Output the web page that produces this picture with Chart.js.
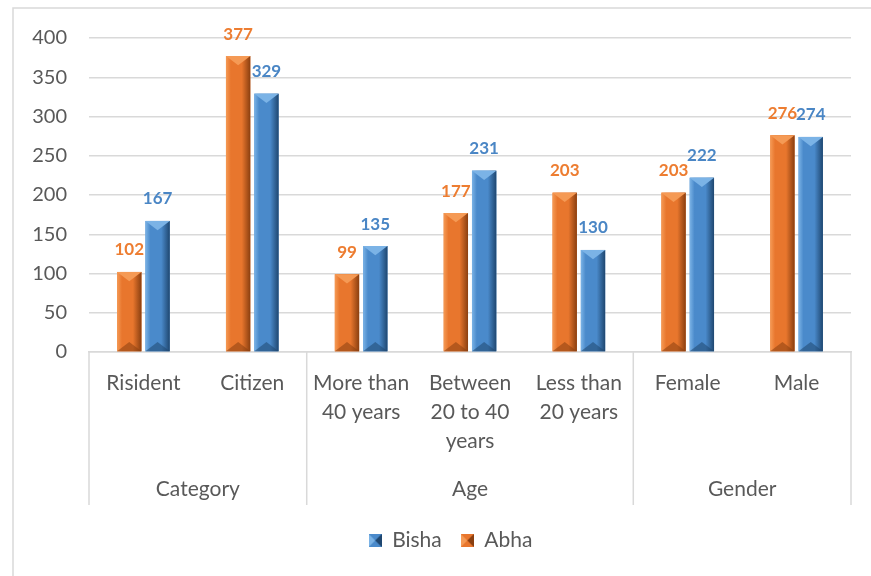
<!DOCTYPE html>
<html>
<head>
<meta charset="utf-8">
<script src="https://cdn.jsdelivr.net/npm/chart.js@4.4.1/dist/chart.umd.min.js"></script>
<style>
  html, body { margin: 0; padding: 0; background: #fff; }
  #wrap { width: 871px; height: 576px; position: relative; }
</style>
</head>
<body>
<div id="wrap"><canvas id="grafica"></canvas></div>
<script>
// datos
const categorias = ['Risident', 'Citizen', ['More than', '40 years'], ['Between', '20 to 40', 'years'], ['Less than', '20 years'], 'Female', 'Male'];
const grupos = ['Category', 'Age', 'Gender'];
const grupoSpan = [2, 3, 2];
const abha = [102, 377, 99, 177, 203, 203, 276];
const bisha = [167, 329, 135, 231, 130, 222, 274];
const yMax = 400;
const yStep = 50;

const fuente = 'Lato, "Open Sans", sans-serif';
const gris = '#595959';

const colores = {
  Abha: { base: '#E8762D', claro: '#F59A55', oscuro: '#8A3F10', texto: '#ED7D31' },
  Bisha: { base: '#4A8ACB', claro: '#7BB3E6', oscuro: '#1F4770', texto: '#4A86C5' }
};

// cuadrito del legend con bisel
function cuadrito(c) {
  const cv = document.createElement('canvas');
  cv.width = 13; cv.height = 13;
  const g = cv.getContext('2d');
  g.fillStyle = c.base; g.fillRect(0, 0, 13, 13);
  g.fillStyle = c.claro;
  g.beginPath(); g.moveTo(0, 0); g.lineTo(6.5, 6.5); g.lineTo(0, 13); g.closePath(); g.fill();
  g.fillStyle = c.oscuro;
  g.beginPath(); g.moveTo(13, 0); g.lineTo(6.5, 6.5); g.lineTo(13, 13); g.closePath(); g.fill();
  return cv;
}

const bisel = {
  id: 'bisel',
  afterDatasetsDraw(chart) {
    const ctx = chart.ctx;
    chart.data.datasets.forEach((ds, i) => {
      const meta = chart.getDatasetMeta(i);
      const c = colores[ds.label];
      meta.data.forEach((bar, j) => {
        const L = bar.x - bar.width / 2, R = bar.x + bar.width / 2;
        const T = bar.y, B = bar.base;
        const s = Math.min(bar.width * 0.38, (B - T) / 2);
        ctx.save();
        const grad = ctx.createLinearGradient(L, 0, R, 0);
        grad.addColorStop(0, c.claro);
        grad.addColorStop(0.2, c.base);
        grad.addColorStop(0.65, c.base);
        grad.addColorStop(1, c.oscuro);
        ctx.fillStyle = grad;
        ctx.fillRect(L, T, R - L, B - T);
        ctx.fillStyle = c.claro;
        ctx.beginPath(); ctx.moveTo(L, T); ctx.lineTo(R, T); ctx.lineTo(bar.x, T + s); ctx.closePath(); ctx.fill();
        ctx.globalAlpha = 0.55;
        ctx.fillStyle = c.oscuro;
        ctx.beginPath(); ctx.moveTo(L, B); ctx.lineTo(R, B); ctx.lineTo(bar.x, B - s); ctx.closePath(); ctx.fill();
        ctx.restore();
        // etiqueta
        ctx.save();
        ctx.fillStyle = c.texto;
        ctx.font = 'bold 17px ' + fuente;
        ctx.textAlign = 'center';
        ctx.textBaseline = 'middle';
        ctx.fillText(ds.data[j], bar.x, T - 22);
        ctx.restore();
      });
    });
  }
};

const gruposPlugin = {
  id: 'grupos',
  afterLayout(chart) {
    // el legend va un poco a la derecha, como en el original
    chart.legend.left += 25;
    chart.legend.right += 25;
  },
  afterDraw(chart) {
    const ctx = chart.ctx;
    const x = chart.scales.x;
    const area = chart.chartArea;
    const abajo = area.bottom + 153;
    ctx.save();
    ctx.strokeStyle = '#d9d9d9';
    ctx.lineWidth = 1.5;
    // marco exterior
    ctx.beginPath();
    ctx.moveTo(13, 580); ctx.lineTo(13, 8); ctx.lineTo(880, 8);
    ctx.stroke();
    let idx = 0;
    const bordes = [area.left];
    const centros = [];
    grupoSpan.forEach(n => {
      const ini = idx, fin = idx + n - 1;
      const izq = ini === 0 ? area.left : (x.getPixelForValue(ini - 1) + x.getPixelForValue(ini)) / 2;
      const der = fin === categorias.length - 1 ? area.right : (x.getPixelForValue(fin) + x.getPixelForValue(fin + 1)) / 2;
      bordes.push(der);
      centros.push((izq + der) / 2);
      idx += n;
    });
    ctx.beginPath();
    bordes.forEach(b => { ctx.moveTo(b, area.bottom); ctx.lineTo(b, abajo); });
    ctx.stroke();
    ctx.fillStyle = gris;
    ctx.font = '21px ' + fuente;
    ctx.textAlign = 'center';
    ctx.textBaseline = 'middle';
    grupos.forEach((g, k) => ctx.fillText(g, centros[k], area.bottom + 137));
    ctx.restore();
  }
};

new Chart(document.getElementById('grafica').getContext('2d'), {
  type: 'bar',
  data: {
    labels: categorias,
    datasets: [
      { label: 'Abha', data: abha, backgroundColor: colores.Abha.base, pointStyle: cuadrito(colores.Abha),
        categoryPercentage: 0.52, barPercentage: 0.86 },
      { label: 'Bisha', data: bisha, backgroundColor: colores.Bisha.base, pointStyle: cuadrito(colores.Bisha),
        categoryPercentage: 0.52, barPercentage: 0.86 }
    ]
  },
  options: {
    responsive: true,
    maintainAspectRatio: false,
    animation: false,
    layout: { padding: { left: 0, right: 20, top: 38, bottom: 15 } },
    plugins: {
      tooltip: { enabled: false },
      legend: {
        position: 'bottom',
        reverse: true,
        labels: {
          usePointStyle: true,
          boxWidth: 13,
          boxHeight: 13,
          padding: 19,
          color: gris,
          font: { family: fuente, size: 21 }
        }
      }
    },
    scales: {
      x: {
        grid: { display: false, drawTicks: false },
        border: { display: true, color: '#d9d9d9', width: 1.5 },
        ticks: {
          color: gris,
          font: { family: fuente, size: 21, lineHeight: 1.38 },
          padding: 17,
          maxRotation: 0,
          autoSkip: false
        },
        afterFit(s) { s.height = 159; }
      },
      y: {
        min: 0,
        max: yMax,
        grid: { color: '#d9d9d9', lineWidth: 1.5, drawTicks: false },
        border: { display: false },
        ticks: {
          stepSize: yStep,
          color: gris,
          padding: 22,
          font: { family: fuente, size: 20 }
        },
        afterFit(s) { s.width = 89; }
      }
    }
  },
  plugins: [bisel, gruposPlugin]
});
</script>
</body>
</html>
